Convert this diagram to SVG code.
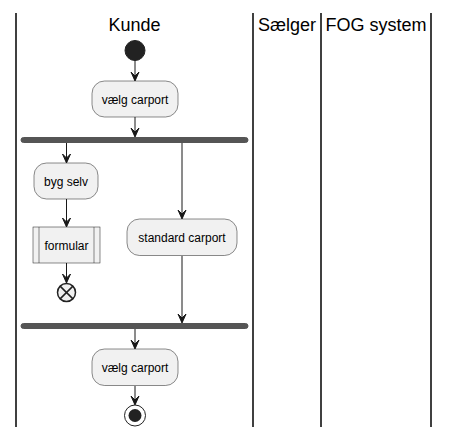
<svg xmlns="http://www.w3.org/2000/svg" width="449" height="438" viewBox="0 0 449 438">
<style>
.lane{stroke:#000;stroke-width:1.5;fill:none}
.title{font-family:"Liberation Sans",Arial,sans-serif;font-size:18px;fill:#000}
.box{fill:#F1F1F1;stroke:#181818;stroke-width:0.5}
.lbl{font-family:"Liberation Sans",Arial,sans-serif;font-size:12px;fill:#000;text-anchor:middle}
.bar{fill:#555555;stroke:#555555}
.edge{stroke:#181818;stroke-width:1;fill:none}
.head{fill:#181818;stroke:#181818;stroke-width:1}
</style>
<rect width="449" height="438" fill="#FFFFFF"/>
<g id="lanes">
<line class="lane" x1="16" y1="13" x2="16" y2="427"/>
<line class="lane" x1="253" y1="13" x2="253" y2="427"/>
<line class="lane" x1="321" y1="13" x2="321" y2="427"/>
<line class="lane" x1="431" y1="13" x2="431" y2="427"/>
<text class="title" x="134.5" y="31" text-anchor="middle">Kunde</text>
<text class="title" x="287" y="31" text-anchor="middle">Sælger</text>
<text class="title" x="376" y="31" text-anchor="middle">FOG system</text>
</g>
<g id="connectors">
<line class="edge" x1="135" y1="60" x2="135" y2="80"/>
<polygon class="head" points="131,72 135,81 139,72 135,76"/>
<line class="edge" x1="135" y1="117" x2="135" y2="136"/>
<polygon class="head" points="131,128 135,137 139,128 135,132"/>
<line class="edge" x1="66.5" y1="143" x2="66.5" y2="162"/>
<polygon class="head" points="62.5,154 66.5,163 70.5,154 66.5,158"/>
<line class="edge" x1="66.5" y1="199" x2="66.5" y2="226"/>
<polygon class="head" points="62.5,218 66.5,227 70.5,218 66.5,222"/>
<line class="edge" x1="66.5" y1="263" x2="66.5" y2="282"/>
<polygon class="head" points="62.5,274 66.5,283 70.5,274 66.5,278"/>
<line class="edge" x1="182" y1="143" x2="182" y2="218"/>
<polygon class="head" points="178,210 182,219 186,210 182,214"/>
<line class="edge" x1="182" y1="256" x2="182" y2="322"/>
<polygon class="head" points="178,314 182,323 186,314 182,318"/>
<line class="edge" x1="135" y1="329" x2="135" y2="348"/>
<polygon class="head" points="131,340 135,349 139,340 135,344"/>
<line class="edge" x1="135" y1="386" x2="135" y2="404"/>
<polygon class="head" points="131,396 135,405 139,396 135,400"/>
</g>
<g id="start">
<circle cx="135" cy="50.5" r="10" fill="#222222" stroke="#222222"/>
</g>
<g id="choose1">
<rect class="box" x="92" y="81" width="86" height="36" rx="12.5" ry="12.5"/>
<text class="lbl" x="135" y="103.5">vælg carport</text>
</g>
<g id="fork">
<rect class="bar" x="21" y="137.5" width="227" height="5" rx="2.5" ry="2.5"/>
</g>
<g id="bygselv">
<rect class="box" x="34" y="163" width="64" height="36" rx="12.5" ry="12.5"/>
<text class="lbl" x="66" y="185.5">byg selv</text>
</g>
<g id="formular">
<rect class="box" x="33" y="227" width="67" height="36"/>
<line x1="39" y1="227" x2="39" y2="263" stroke="#181818" stroke-width="0.5"/>
<line x1="94" y1="227" x2="94" y2="263" stroke="#181818" stroke-width="0.5"/>
<text class="lbl" x="66.5" y="249.5">formular</text>
</g>
<g id="flowend">
<circle cx="66.5" cy="292.5" r="9" fill="#F1F1F1" stroke="#222222" stroke-width="1.5"/>
<line x1="60.1" y1="286.1" x2="72.9" y2="298.9" stroke="#222222" stroke-width="1.5"/>
<line x1="60.1" y1="298.9" x2="72.9" y2="286.1" stroke="#222222" stroke-width="1.5"/>
</g>
<g id="standard">
<rect class="box" x="127" y="219" width="110" height="36.5" rx="12.5" ry="12.5"/>
<text class="lbl" x="182" y="241.5">standard carport</text>
</g>
<g id="join">
<rect class="bar" x="21" y="323.5" width="227" height="5" rx="2.5" ry="2.5"/>
</g>
<g id="choose2">
<rect class="box" x="92" y="349" width="86" height="36.5" rx="12.5" ry="12.5"/>
<text class="lbl" x="135" y="371.5">vælg carport</text>
</g>
<g id="stop">
<circle cx="135" cy="415.5" r="10.5" fill="none" stroke="#222222" stroke-width="1"/>
<circle cx="135" cy="415.5" r="6.5" fill="#222222" stroke="none"/>
</g>
</svg>
